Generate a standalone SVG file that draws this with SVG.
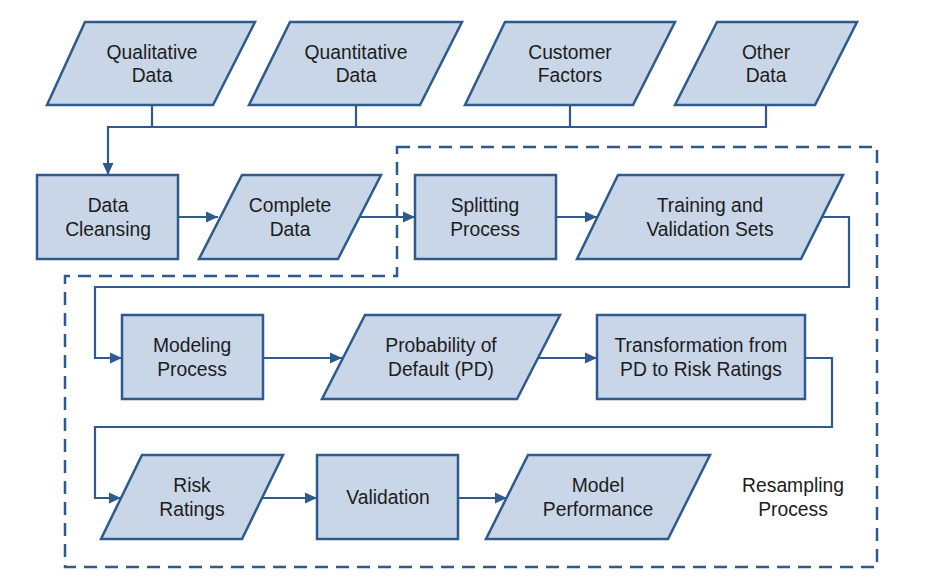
<svg xmlns="http://www.w3.org/2000/svg" width="930" height="583" viewBox="0 0 930 583">
<defs>
<style>
.n{fill:#c8d6e8;stroke:#2e5a8e;stroke-width:2.5}
.t{font-family:"Liberation Sans",Arial,sans-serif;font-size:19.3px;fill:#1c1c1c;text-anchor:middle}
.c{fill:none;stroke:#2e5a8e;stroke-width:2.2}
.d{fill:none;stroke:#2e5a8e;stroke-width:2.5;stroke-dasharray:13 8}
</style>
<marker id="ah" markerWidth="12" markerHeight="12" refX="12" refY="6" orient="auto" markerUnits="userSpaceOnUse">
<path d="M0,0.5 L12,6 L0,11.5 Z" fill="#2e5a8e"/>
</marker>
</defs>
<rect width="930" height="583" fill="#fff"/>
<g id="boundary">
<path class="d" d="M397,147 L877,147 L877,567 L65,567 L65,276 L397,276 Z"/>
<text class="t" x="793" y="491.5">Resampling</text>
<text class="t" x="793" y="515.5">Process</text>
</g>
<g id="connectors">
<path class="c" d="M152,105 V127 M356,105 V127 M570,105 V127 M766,105 V127 H108 V175" marker-end="url(#ah)"/>
<path class="c" d="M178,217 H218" marker-end="url(#ah)"/>
<path class="c" d="M360,217 H415" marker-end="url(#ah)"/>
<path class="c" d="M556,217 H597" marker-end="url(#ah)"/>
<path class="c" d="M822,217 H849 V287 H95 V358 H122" marker-end="url(#ah)"/>
<path class="c" d="M263,358 H342" marker-end="url(#ah)"/>
<path class="c" d="M539,358 H597" marker-end="url(#ah)"/>
<path class="c" d="M805,358 H832 V427 H95 V498 H121" marker-end="url(#ah)"/>
<path class="c" d="M263,498 H317" marker-end="url(#ah)"/>
<path class="c" d="M458,498 H507" marker-end="url(#ah)"/>
</g>
<g id="qualitative">
<polygon class="n" points="85,22 255,22 213,105 47,105"/>
<text class="t" x="152" y="58.5">Qualitative</text>
<text class="t" x="152" y="82">Data</text>
</g>
<g id="quantitative">
<polygon class="n" points="290,22 462,22 420,105 249,105"/>
<text class="t" x="356" y="58.5">Quantitative</text>
<text class="t" x="356" y="82">Data</text>
</g>
<g id="customer">
<polygon class="n" points="505,22 675,22 633,105 465,105"/>
<text class="t" x="570" y="58.5">Customer</text>
<text class="t" x="570" y="82">Factors</text>
</g>
<g id="other">
<polygon class="n" points="717,22 857,22 815,105 675,105"/>
<text class="t" x="766" y="58.5">Other</text>
<text class="t" x="766" y="82">Data</text>
</g>
<g id="cleansing">
<rect class="n" x="37" y="175" width="141" height="84"/>
<text class="t" x="108" y="211.5">Data</text>
<text class="t" x="108" y="235.5">Cleansing</text>
</g>
<g id="complete">
<polygon class="n" points="242,175 381,175 338,259 199,259"/>
<text class="t" x="290" y="211.5">Complete</text>
<text class="t" x="290" y="235.5">Data</text>
</g>
<g id="splitting">
<rect class="n" x="415" y="175" width="141" height="84"/>
<text class="t" x="485" y="211.5">Splitting</text>
<text class="t" x="485" y="235.5">Process</text>
</g>
<g id="training">
<polygon class="n" points="618,175 843,175 801,259 577,259"/>
<text class="t" x="710" y="211.5">Training and</text>
<text class="t" x="710" y="235.5">Validation Sets</text>
</g>
<g id="modeling">
<rect class="n" x="122" y="315" width="141" height="84"/>
<text class="t" x="192" y="351.5">Modeling</text>
<text class="t" x="192" y="375.5">Process</text>
</g>
<g id="pd">
<polygon class="n" points="365,315 560,315 517,399 322,399"/>
<text class="t" x="441" y="351.5">Probability of</text>
<text class="t" x="441" y="375.5">Default (PD)</text>
</g>
<g id="transformation">
<rect class="n" x="597" y="315" width="208" height="84"/>
<text class="t" x="701" y="351.5">Transformation from</text>
<text class="t" x="701" y="375.5">PD to Risk Ratings</text>
</g>
<g id="ratings">
<polygon class="n" points="142,455 283,455 242,539 101,539"/>
<text class="t" x="192" y="491.5">Risk</text>
<text class="t" x="192" y="515.5">Ratings</text>
</g>
<g id="validation">
<rect class="n" x="317" y="455" width="141" height="84"/>
<text class="t" x="388" y="503.5">Validation</text>
</g>
<g id="performance">
<polygon class="n" points="528,455 710,455 668,539 486,539"/>
<text class="t" x="598" y="491.5">Model</text>
<text class="t" x="598" y="515.5">Performance</text>
</g>
</svg>
